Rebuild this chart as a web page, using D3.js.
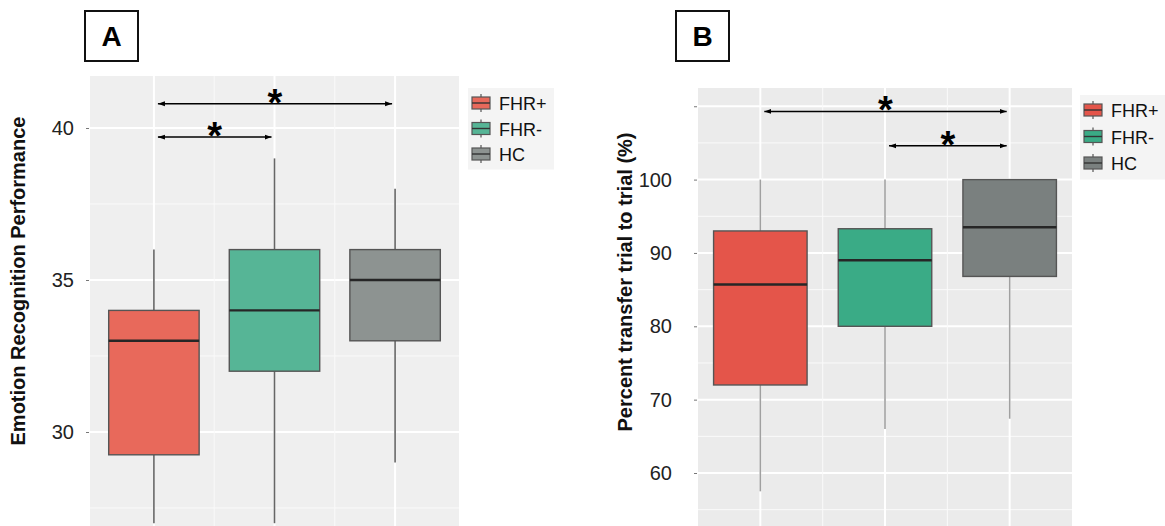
<!DOCTYPE html>
<html><head><meta charset="utf-8">
<script src="https://cdn.jsdelivr.net/npm/d3@7"></script>
<style>body{margin:0;background:#fff}svg{display:block;font-family:"Liberation Sans",Arial,Helvetica,sans-serif}</style>
</head><body><svg id="c" width="1165" height="526"></svg>
<script>
// ---------- data ----------
const categories = ["FHR+", "FHR-", "HC"];

const emotionMin    = [27, 27, 29];
const emotionQ1     = [29.25, 32, 33];
const emotionMedian = [33, 34, 35];
const emotionQ3     = [34, 36, 36];
const emotionMax    = [36, 39, 38];
const emotionTicks = [30, 35, 40];
const emotionTickLabels = ["30", "35", "40"];
const emotionMinorTicks = [27.5, 32.5, 37.5];
const emotionComparisons = [["FHR+", "HC", 40.8], ["FHR+", "FHR-", 39.7]];

const transferMin    = [57.5, 66, 67.4];
const transferQ1     = [72, 80, 86.8];
const transferMedian = [85.7, 89, 93.5];
const transferQ3     = [93, 93.3, 100];
const transferMax    = [100, 100, 100];
const transferTicks = [60, 70, 80, 90, 100, 110];
const transferTickLabels = ["60", "70", "80", "90", "100", ""];
const transferMinorTicks = [55, 65, 75, 85, 95, 105];
const transferComparisons = [["FHR+", "HC", 109.3], ["FHR-", "HC", 104.6]];

// ---------- drawing ----------
const svg = d3.select("#c");
const defs = svg.append("defs");
defs.append("marker").attr("id", "ah").attr("viewBox", "0 0 10 10")
  .attr("refX", 10).attr("refY", 5).attr("markerWidth", 7).attr("markerHeight", 7)
  .attr("markerUnits", "userSpaceOnUse").attr("orient", "auto-start-reverse")
  .append("path").attr("d", "M0,1.5 L10,5 L0,8.5 Z").attr("fill", "#000");

function drawPanel(cfg) {
  const g = svg.append("g");
  const x = d3.scalePoint().domain(categories).range([cfg.left, cfg.right]).padding(cfg.pad);
  const y = d3.scaleLinear().domain(cfg.yDomain).range(cfg.yRange);
  const step = x.step();
  const clipId = "clip" + cfg.name;
  defs.append("clipPath").attr("id", clipId).append("rect")
    .attr("x", cfg.left).attr("y", cfg.top).attr("width", cfg.right - cfg.left).attr("height", cfg.bottom - cfg.top);

  g.append("rect").attr("x", cfg.left).attr("y", cfg.top)
    .attr("width", cfg.right - cfg.left).attr("height", cfg.bottom - cfg.top).attr("fill", cfg.panelBg);

  const grid = g.append("g").attr("clip-path", `url(#${clipId})`);
  grid.selectAll(".hmin").data(cfg.minor).join("line")
    .attr("x1", cfg.left).attr("x2", cfg.right).attr("y1", d => y(d)).attr("y2", d => y(d))
    .attr("stroke", "#fafafa").attr("stroke-width", 1);
  grid.selectAll(".hmaj").data(cfg.ticks).join("line")
    .attr("x1", cfg.left).attr("x2", cfg.right).attr("y1", d => y(d)).attr("y2", d => y(d))
    .attr("stroke", "#fff").attr("stroke-width", 2);
  const mids = categories.slice(1).map((c, i) => (x(c) + x(categories[i])) / 2);
  grid.selectAll(".vmin").data(mids).join("line")
    .attr("x1", d => d).attr("x2", d => d).attr("y1", cfg.top).attr("y2", cfg.bottom)
    .attr("stroke", "#fafafa").attr("stroke-width", 1);
  grid.selectAll(".vmaj").data(categories).join("line")
    .attr("x1", d => x(d)).attr("x2", d => x(d)).attr("y1", cfg.top).attr("y2", cfg.bottom)
    .attr("stroke", "#fff").attr("stroke-width", 2);

  // boxes
  const bw = step * 0.75;
  const boxes = g.append("g").attr("clip-path", `url(#${clipId})`);
  categories.forEach((c, i) => {
    const cx = x(c);
    boxes.append("line").attr("x1", cx).attr("x2", cx).attr("y1", y(cfg.max[i])).attr("y2", y(cfg.q3[i]))
      .attr("stroke", cfg.whisker).attr("stroke-width", 1.6);
    boxes.append("line").attr("x1", cx).attr("x2", cx).attr("y1", y(cfg.q1[i])).attr("y2", y(cfg.min[i]))
      .attr("stroke", cfg.whisker).attr("stroke-width", 1.6);
    boxes.append("rect").attr("x", cx - bw / 2).attr("y", y(cfg.q3[i]))
      .attr("width", bw).attr("height", y(cfg.q1[i]) - y(cfg.q3[i]))
      .attr("fill", cfg.colors[i]).attr("stroke", "#555").attr("stroke-width", 1.4);
    boxes.append("line").attr("x1", cx - bw / 2).attr("x2", cx + bw / 2)
      .attr("y1", y(cfg.median[i])).attr("y2", y(cfg.median[i]))
      .attr("stroke", "#262626").attr("stroke-width", 2.4);
  });

  // axis
  const axis = d3.axisLeft(y).tickValues(cfg.ticks).tickSize(3).tickPadding(cfg.tickPad)
    .tickFormat((d, i) => cfg.tickLabels[i]);
  const ax = g.append("g").attr("transform", `translate(${cfg.left - 1},0)`).call(axis);
  ax.select(".domain").remove();
  ax.selectAll(".tick line").attr("stroke", "#777").attr("stroke-width", 1);
  ax.selectAll(".tick text").attr("font-size", 20).attr("fill", "#222")
    .attr("font-family", '"Liberation Sans",Arial,sans-serif');

  // title
  g.append("text").attr("transform", `translate(${cfg.titleX},${cfg.titleY}) rotate(-90)`)
    .attr("text-anchor", "middle").attr("font-weight", "bold").attr("font-size", cfg.titleSize)
    .attr("fill", "#111").text(cfg.title);

  // comparisons
  cfg.comparisons.forEach(([a, b, v]) => {
    const x1 = x(a) + 4, x2 = x(b) - 3, yy = y(v);
    g.append("line").attr("x1", x1).attr("x2", x2).attr("y1", yy).attr("y2", yy)
      .attr("stroke", "#000").attr("stroke-width", 1.5)
      .attr("marker-start", "url(#ah)").attr("marker-end", "url(#ah)");
    g.append("text").attr("x", (x1 + x2) / 2).attr("y", yy + 12).attr("text-anchor", "middle")
      .attr("font-size", 38).attr("font-weight", "bold").attr("fill", "#000").text("*");
  });

  // legend
  const lg = g.append("g");
  lg.append("rect").attr("x", cfg.legX - 4).attr("y", cfg.legY - 15)
    .attr("width", 86).attr("height", cfg.legStep * 3 + 5).attr("fill", "#f4f4f4");
  categories.forEach((c, i) => {
    const cy = cfg.legY + i * cfg.legStep;
    const kx = cfg.legX, kw = 18;
    lg.append("line").attr("x1", kx + kw / 2).attr("x2", kx + kw / 2).attr("y1", cy - 9).attr("y2", cy + 9)
      .attr("stroke", "#555").attr("stroke-width", 1.2);
    lg.append("rect").attr("x", kx).attr("y", cy - 6).attr("width", kw).attr("height", 12)
      .attr("fill", cfg.colors[i]).attr("stroke", "#555").attr("stroke-width", 1.2);
    lg.append("line").attr("x1", kx).attr("x2", kx + kw).attr("y1", cy).attr("y2", cy)
      .attr("stroke", "#333").attr("stroke-width", 1.4);
    lg.append("text").attr("x", kx + 27).attr("y", cy + 7).attr("font-size", 18).attr("fill", "#111").text(c);
  });

  // panel label
  g.append("rect").attr("x", cfg.labX).attr("y", 11).attr("width", 53).attr("height", 50)
    .attr("fill", "#fff").attr("stroke", "#111").attr("stroke-width", 2);
  g.append("text").attr("x", cfg.labX + 26.5).attr("y", 46).attr("text-anchor", "middle")
    .attr("font-size", 28).attr("font-weight", "bold").attr("fill", "#000").text(cfg.name);
}

drawPanel({
  name: "A", left: 90, right: 459, top: 76, bottom: 526, pad: 0.53,
  yDomain: [30, 40], yRange: [432, 128],
  min: emotionMin, q1: emotionQ1, median: emotionMedian, q3: emotionQ3, max: emotionMax,
  ticks: emotionTicks, tickLabels: emotionTickLabels, minor: emotionMinorTicks,
  comparisons: emotionComparisons,
  colors: ["#e8695b", "#56b596", "#8d9391"], whisker: "#666", panelBg: "#efefef",
  tickPad: 12, title: "Emotion Recognition Performance", titleX: 25, titleY: 281, titleSize: 20,
  legX: 472, legY: 103, legStep: 25.5, labX: 85
});

drawPanel({
  name: "B", left: 698, right: 1072, top: 88, bottom: 526, pad: 0.5,
  yDomain: [60, 100], yRange: [473, 179.6],
  min: transferMin, q1: transferQ1, median: transferMedian, q3: transferQ3, max: transferMax,
  ticks: transferTicks, tickLabels: transferTickLabels, minor: transferMinorTicks,
  comparisons: transferComparisons,
  colors: ["#e4554a", "#3aab86", "#7a807f"], whisker: "#a0a0a0", panelBg: "#ebebeb",
  tickPad: 22, title: "Percent transfer trial to trial (%)", titleX: 632, titleY: 282, titleSize: 20,
  legX: 1084, legY: 110, legStep: 26.5, labX: 676
});
</script></body></html>
